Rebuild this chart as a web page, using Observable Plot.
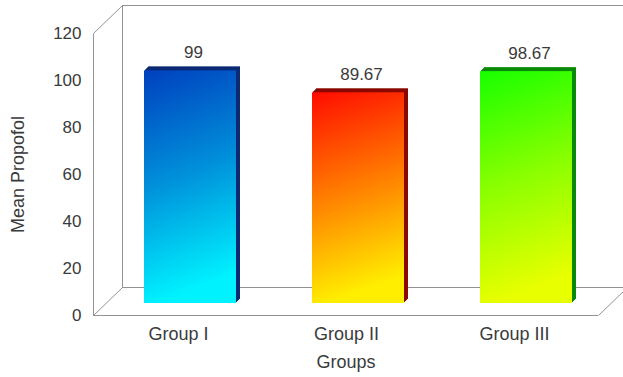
<!DOCTYPE html>
<html><head><meta charset="utf-8">
<script src="https://cdn.jsdelivr.net/npm/d3@7"></script>
<script src="https://cdn.jsdelivr.net/npm/@observablehq/plot@0.6"></script>
<style>body{margin:0;background:#fff}</style>
</head><body>
<svg width="0" height="0" style="position:absolute">
<defs>
<linearGradient id="gBlue" x1="0" y1="0" x2="0.15" y2="1">
<stop offset="0" stop-color="#0040be"/><stop offset="0.5" stop-color="#0090da"/><stop offset="1" stop-color="#00f2ff"/>
</linearGradient>
<linearGradient id="gRed" x1="0" y1="0" x2="0.15" y2="1">
<stop offset="0" stop-color="#ff0c00"/><stop offset="0.5" stop-color="#ff7c00"/><stop offset="1" stop-color="#ffee00"/>
</linearGradient>
<linearGradient id="gGreen" x1="0" y1="0" x2="0.15" y2="1">
<stop offset="0" stop-color="#18ff00"/><stop offset="0.5" stop-color="#88ff00"/><stop offset="1" stop-color="#e8ff00"/>
</linearGradient>
</defs></svg>
<div id="chart"></div>
<script>
const groups = ["Group I", "Group II", "Group III"];
const means = [99, 89.67, 98.67];
const yTicks = [0, 20, 40, 60, 80, 100, 120];
const faceFills = ["url(#gBlue)", "url(#gRed)", "url(#gGreen)"];
const sideFills = ["#0b2a72", "#8a0800", "#088a08"];

const data = groups.map((g, i) => ({group: g, mean: means[i], face: faceFills[i], side: sideFills[i]}));

const DX = 29, DY = -28;   // depth of the 3D box
const BX = 12, BY = -12;   // bar depth offset
const lineColor = "#939393";
const textColor = "#3a3a3a";

function boxEdges(index, scales, values, dims) {
  const x0 = dims.marginLeft + 0.5;
  const x1 = dims.width - dims.marginRight + 0.5;
  const yT = Math.round(scales.y(120)) + 0.5;
  const yB = Math.round(scales.y(0)) + 0.5;
  const p = d3.path();
  p.moveTo(x0, yT); p.lineTo(x0, yB);
  p.moveTo(x0, yT); p.lineTo(x0 + DX, yT + DY);
  p.moveTo(x0, yB); p.lineTo(x0 + DX, yB + DY);
  p.moveTo(x1, yB); p.lineTo(x1 + DX, yB + DY);
  return d3.create("svg:path").attr("d", p.toString()).attr("fill", "none").attr("stroke", lineColor).node();
}

const chart = Plot.plot({
  width: 623, height: 377,
  marginLeft: 93, marginRight: 25, marginTop: 33, marginBottom: 62,
  style: {fontFamily: "'Liberation Sans', Arial, sans-serif", fontSize: "17px", color: textColor, background: "#fff"},
  x: {domain: groups, paddingInner: 0.453, paddingOuter: 0.2265, tickSize: 0, tickPadding: 12, label: null},
  y: {domain: [0, 120], ticks: yTicks, tickSize: 0, tickPadding: 12, label: null},
  color: {type: "identity"},
  marks: [
    Plot.frame({dx: DX, dy: DY, stroke: lineColor}),
    boxEdges,
    Plot.ruleY([0], {stroke: lineColor}),
    ...[4, 3, 2, 1].map(k => Plot.barY(data, {x: "group", y: "mean", fill: "side", dx: BX + k, dy: BY - k})),
    Plot.barY(data, {x: "group", y: "mean", fill: "face", dx: BX, dy: BY}),
    Plot.text(data, {x: "group", y: "mean", text: d => String(d.mean), dx: BX + 3, dy: BY - 18, fill: textColor}),
    Plot.text(["Groups"], {frameAnchor: "bottom", dy: 52, fill: textColor, fontSize: 18}),
    Plot.text(["Mean Propofol"], {frameAnchor: "left", textAnchor: "middle", rotate: -90, dx: -75, fill: textColor, fontSize: 18})
  ]
});
d3.select(chart).selectAll('g[aria-label^="x-axis"]').attr("font-size", 18).style("font-size", "18px");
document.getElementById("chart").appendChild(chart);
</script>
</body></html>
